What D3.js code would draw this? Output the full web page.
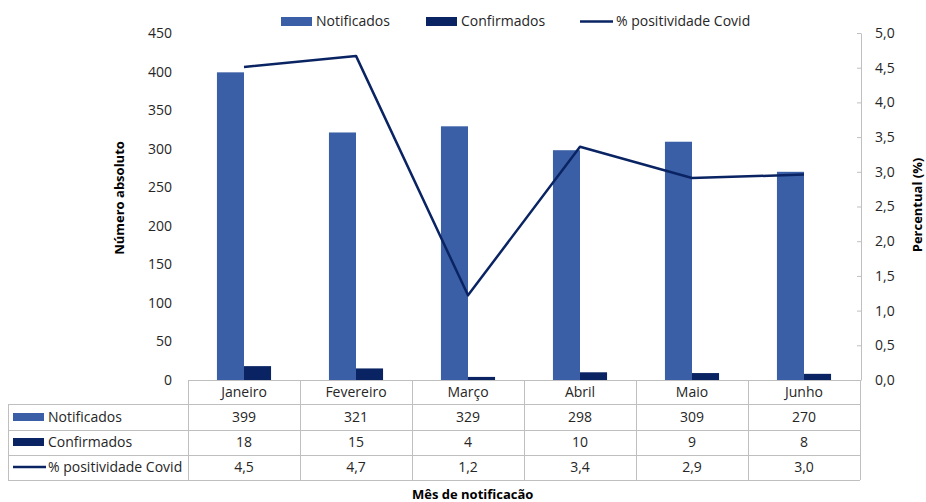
<!DOCTYPE html>
<html><head><meta charset="utf-8">
<script src="https://cdn.jsdelivr.net/npm/d3@7"></script>
<style>body{margin:0;background:#fff}svg{display:block;font-family:"Open Sans",sans-serif}</style>
</head><body><svg id="c" width="926" height="502"></svg>
<script>
const months = ["Janeiro","Fevereiro","Março","Abril","Maio","Junho"];
const notificados = [399,321,329,298,309,270];
const confirmados = [18,15,4,10,9,8];
const positividade = [4.51,4.67,1.22,3.36,2.91,2.96];
const leftTicks = [0,50,100,150,200,250,300,350,400,450];
const rightTicks = [0,0.5,1,1.5,2,2.5,3,3.5,4,4.5,5];
const seriesNames = ["Notificados","Confirmados","% positividade Covid"];

const C_NOT = "#3A5FA6", C_CONF = "#0A2463", C_LINE = "#0A2463", GRID = "#BFBFBF", TXT = "#262626";
const svg = d3.select("#c");
const L = 188, R = 860, T = 33, B = 380;
const fs = 14;
const fmt = v => d3.format(".1f")(v).replace(".", ",");

const x = d3.scaleBand().domain(months).range([L, R]);
const xs = d3.scaleBand().domain(["n","c"]).range([0, x.bandwidth()]).paddingInner(0).paddingOuter(1.07);
const y = d3.scaleLinear().domain([0,450]).range([B, T]);
const y2 = d3.scaleLinear().domain([0,5]).range([B, T]);

// bars
svg.append("g").selectAll("rect.n").data(months).join("rect")
  .attr("x", (d)=>x(d)+xs("n")).attr("width", xs.bandwidth())
  .attr("y", (d,i)=>y(notificados[i])).attr("height",(d,i)=>B-y(notificados[i])).attr("fill", C_NOT);
svg.append("g").selectAll("rect.c").data(months).join("rect")
  .attr("x", (d)=>x(d)+xs("c")).attr("width", xs.bandwidth())
  .attr("y", (d,i)=>y(confirmados[i])).attr("height",(d,i)=>B-y(confirmados[i])).attr("fill", C_CONF);

// line
const line = d3.line().x((d,i)=>x(months[i])+x.bandwidth()/2).y(d=>y2(d));
svg.append("path").datum(positividade).attr("d", line).attr("fill","none")
  .attr("stroke", C_LINE).attr("stroke-width", 2.5).attr("stroke-linejoin","round");

// left axis (no line)
const ga = svg.append("g").attr("transform", `translate(${L},0)`)
  .call(d3.axisLeft(y).tickValues(leftTicks).tickSize(0).tickPadding(16));
ga.select(".domain").remove();
ga.selectAll("text").attr("font-size", fs).attr("font-family","Open Sans").attr("fill",TXT);

// right axis
const gr = svg.append("g").attr("transform", `translate(${R+1},0)`)
  .call(d3.axisRight(y2).tickValues(rightTicks).tickSizeInner(-4).tickSizeOuter(0).tickPadding(14).tickFormat(fmt));
gr.select(".domain").attr("stroke", GRID);
gr.selectAll(".tick line").attr("stroke", GRID);
gr.selectAll("text").attr("font-size", fs).attr("font-family","Open Sans").attr("fill",TXT);

// axis titles
svg.append("text").attr("transform","translate(124,198) rotate(-90)").attr("text-anchor","middle")
  .attr("font-size",13).attr("font-weight","bold").attr("fill","#000").text("Número absoluto");
svg.append("text").attr("transform","translate(922,205) rotate(-90)").attr("text-anchor","middle")
  .attr("font-size",13).attr("font-weight","bold").attr("fill","#000").text("Percentual (%)");

// table
const tleft = 8;
const tg = svg.append("g").attr("stroke", GRID).attr("stroke-width",1);
tg.append("line").attr("x1",L).attr("x2",R).attr("y1",B+0.5).attr("y2",B+0.5);
[404,430,455,480].forEach(yy=>tg.append("line").attr("x1",tleft).attr("x2",R).attr("y1",yy+0.5).attr("y2",yy+0.5));
tg.append("line").attr("x1",tleft+0.5).attr("x2",tleft+0.5).attr("y1",404).attr("y2",480);
months.concat(["end"]).forEach((m,i)=>{
  const xx = i<months.length ? x(m) : R;
  tg.append("line").attr("x1",xx+0.5).attr("x2",xx+0.5).attr("y1",B).attr("y2",480);
});
// header months
svg.append("g").selectAll("text").data(months).join("text")
  .attr("x", d=>x(d)+x.bandwidth()/2).attr("y", 397).attr("text-anchor","middle")
  .attr("font-size",fs).attr("fill",TXT).text(d=>d);
const tableData = [notificados.map(String), confirmados.map(String), positividade.map(fmt)];
const rowCenters = [417, 442, 467];
tableData.forEach((vals,r)=>{
  svg.append("g").selectAll("text").data(vals).join("text")
    .attr("x",(d,i)=>x(months[i])+x.bandwidth()/2).attr("y", rowCenters[r]+5).attr("text-anchor","middle")
    .attr("font-size",fs).attr("fill",TXT).text(d=>d);
  svg.append("text").attr("x",48).attr("y",rowCenters[r]+5).attr("font-size",fs).attr("fill",TXT).text(seriesNames[r]);
});
svg.append("rect").attr("x",13).attr("y",413).attr("width",31).attr("height",8).attr("fill",C_NOT);
svg.append("rect").attr("x",13).attr("y",438).attr("width",31).attr("height",8).attr("fill",C_CONF);
svg.append("line").attr("x1",13).attr("x2",46).attr("y1",467).attr("y2",467).attr("stroke",C_LINE).attr("stroke-width",2.5);

svg.append("text").attr("x",412).attr("y",499).attr("font-size",13).attr("font-weight","bold").attr("fill","#000").text("Mês de notificacão");

// legend
const lg = svg.append("g");
lg.append("rect").attr("x",281).attr("y",17).attr("width",31).attr("height",9).attr("fill",C_NOT);
lg.append("text").attr("x",316).attr("y",26).attr("font-size",fs).attr("fill",TXT).text(seriesNames[0]);
lg.append("rect").attr("x",426).attr("y",17).attr("width",31).attr("height",9).attr("fill",C_CONF);
lg.append("text").attr("x",461).attr("y",26).attr("font-size",fs).attr("fill",TXT).text(seriesNames[1]);
lg.append("line").attr("x1",580).attr("x2",613).attr("y1",21.5).attr("y2",21.5).attr("stroke",C_LINE).attr("stroke-width",2.5);
lg.append("text").attr("x",616).attr("y",26).attr("font-size",fs).attr("fill",TXT).text(seriesNames[2]);
</script></body></html>
